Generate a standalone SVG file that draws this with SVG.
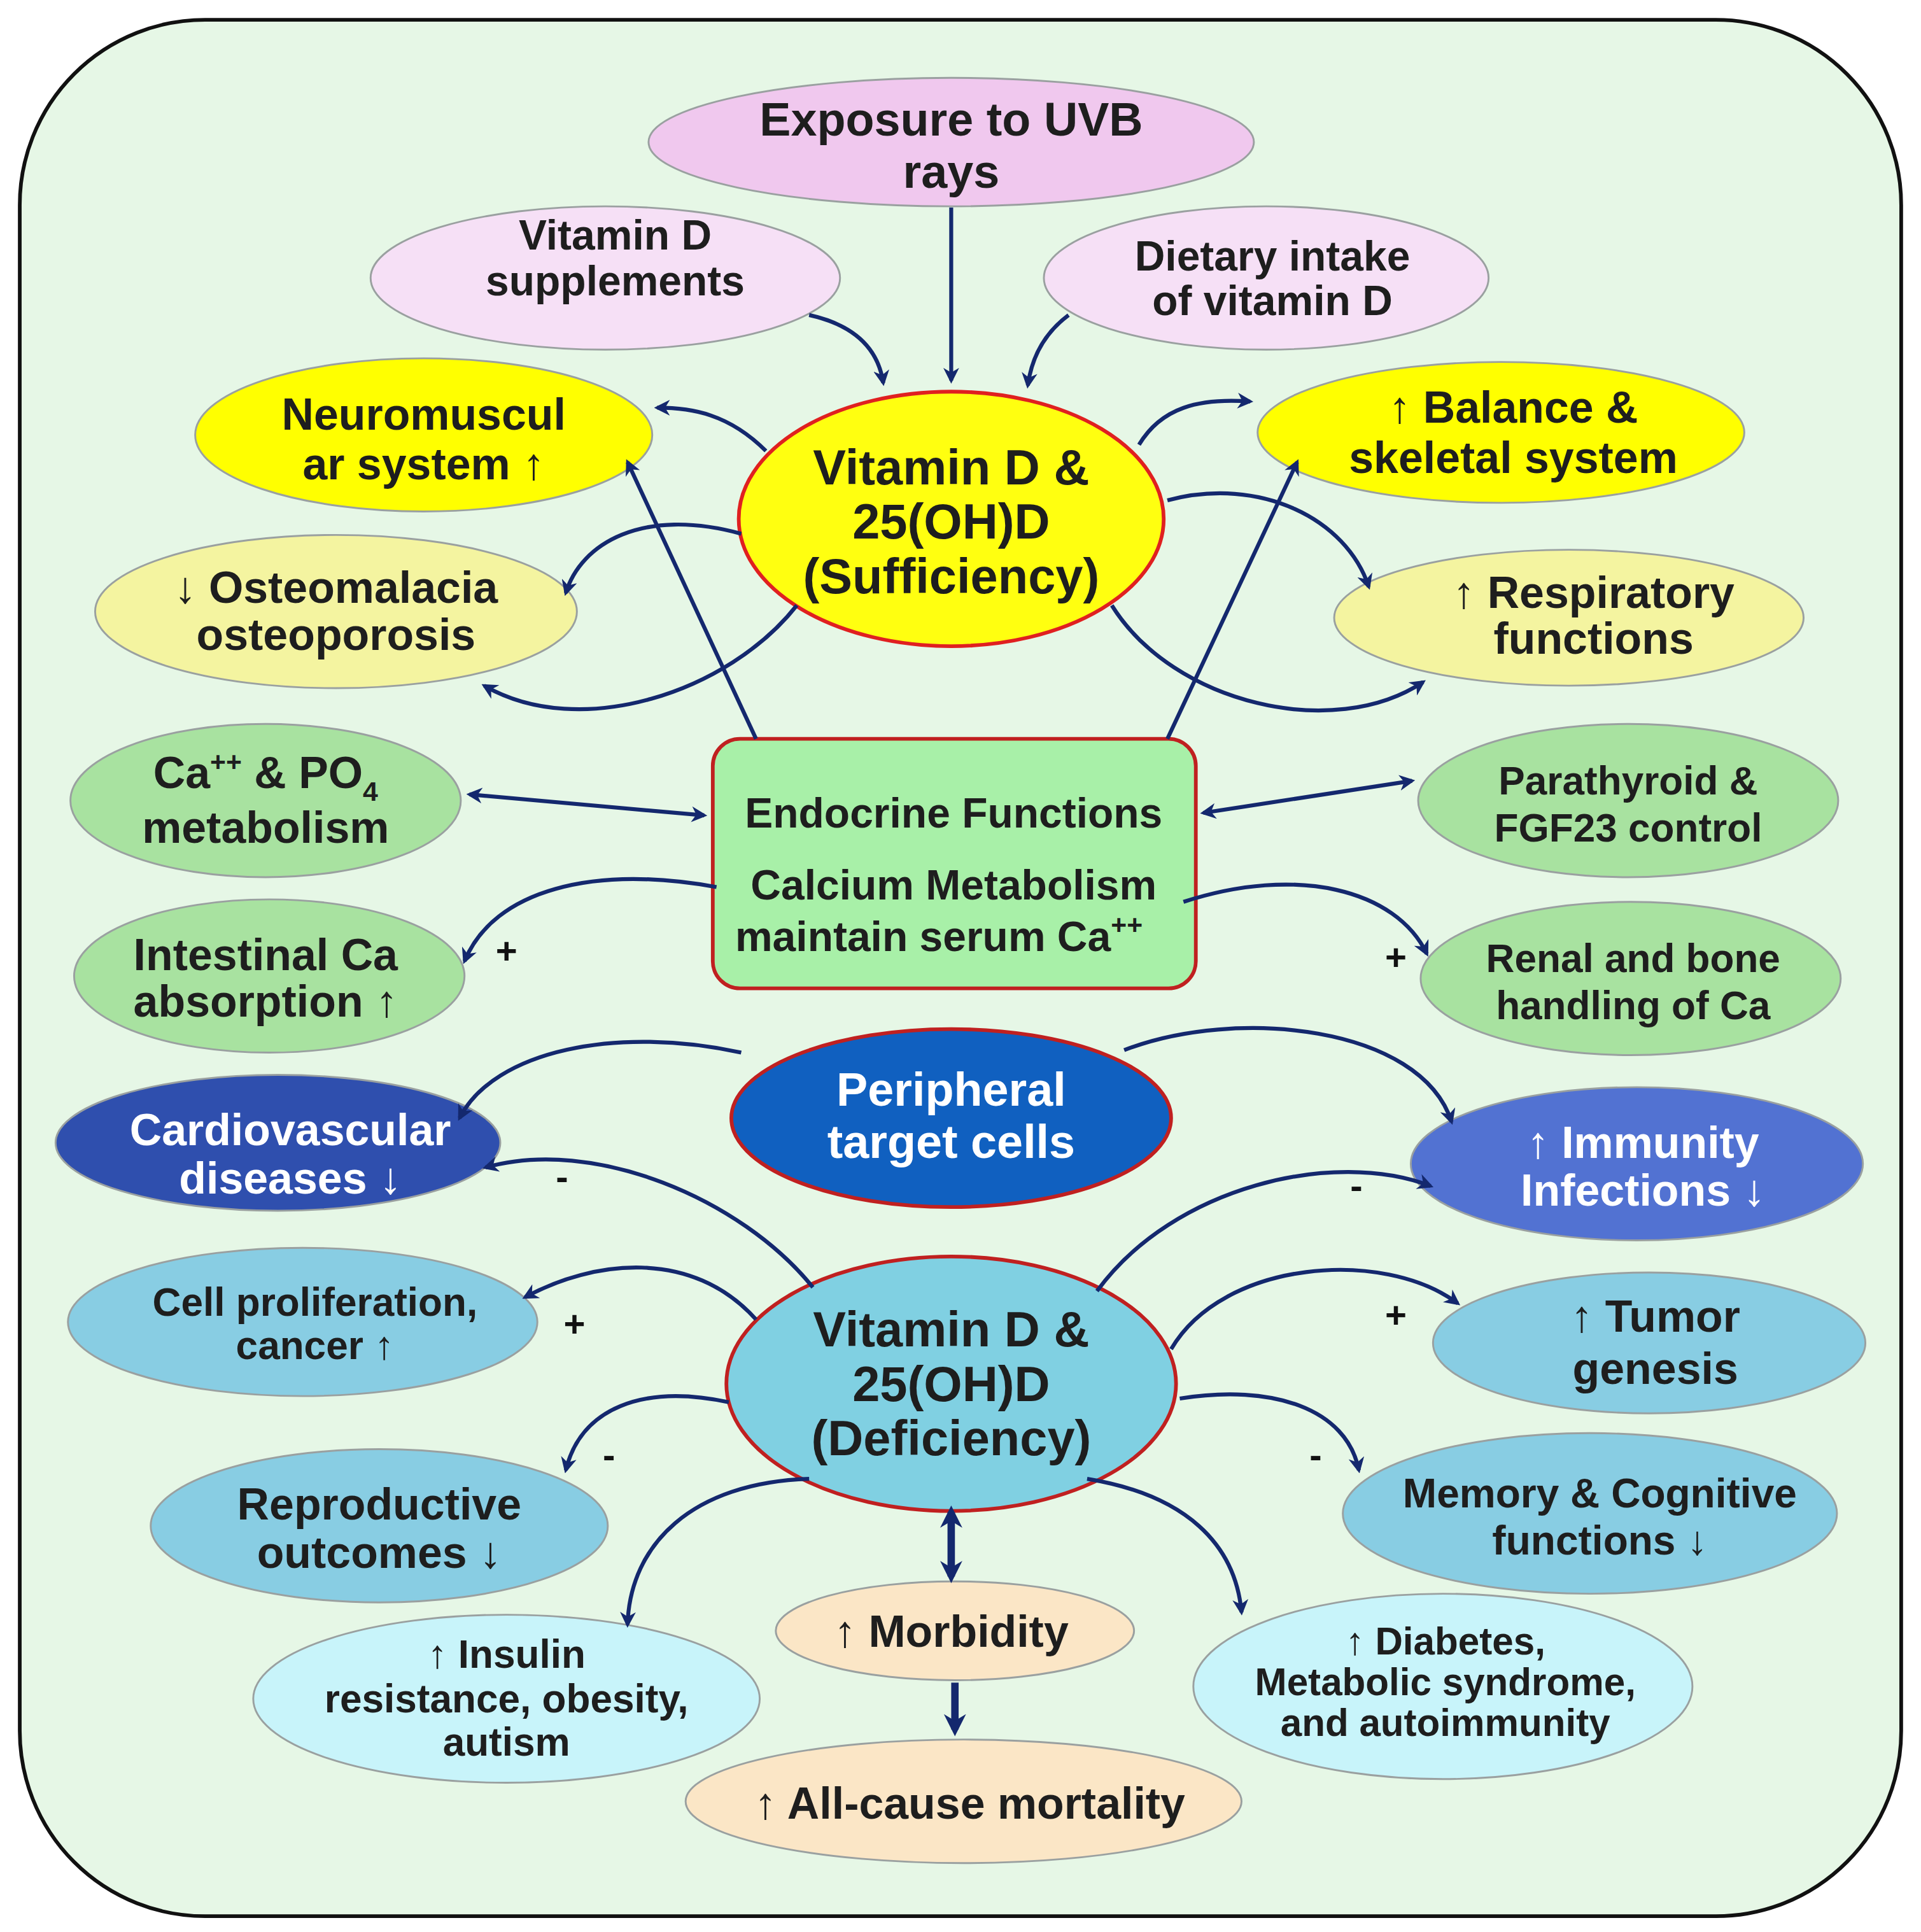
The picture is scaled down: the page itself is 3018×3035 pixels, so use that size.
<svg xmlns="http://www.w3.org/2000/svg" width="3018" height="3035" viewBox="0 0 3018 3035">
<defs>
<marker id="ah" viewBox="0 0 10 10" refX="8" refY="5" markerWidth="4" markerHeight="4" orient="auto-start-reverse"><path d="M0,0 L10,5 L0,10 L3,5 Z" fill="#14286e"/></marker>
<marker id="ah2" viewBox="0 0 10 10" refX="7" refY="5" markerWidth="3" markerHeight="3" orient="auto-start-reverse"><path d="M0,0 L10,5 L0,10 L3,5 Z" fill="#14286e"/></marker>
</defs>
<style>
.n{stroke:#9aa0a0;stroke-width:1.5}
.t{font-family:"Liberation Sans",Arial,sans-serif;font-weight:bold;fill:#1e1e1e;text-anchor:middle}
.w{fill:#fff}
.c path,.c line{fill:none;stroke:#14286e;stroke-width:3.2;marker-end:url(#ah)}
.s{font-family:"Liberation Sans",Arial,sans-serif;font-weight:bold;font-size:30px;fill:#111;text-anchor:middle}
</style>
<rect width="3018" height="3035" fill="#fff"/>
<g transform="scale(1.9408)">
<rect x="16" y="16" width="1523" height="1535" rx="150" fill="#e6f7e6" stroke="#111" stroke-width="3"/>

<g id="uvb"><ellipse cx="770" cy="115" rx="245" ry="52" fill="#f0c8ee" class="n"/><text class="t" font-size="38" x="770" y="110">Exposure to UVB</text><text class="t" font-size="38" x="770" y="152">rays</text></g>
<g id="supp"><ellipse cx="490" cy="225" rx="190" ry="58" fill="#f6e0f6" class="n"/><text class="t" font-size="34" x="498" y="202">Vitamin D</text><text class="t" font-size="34" x="498" y="239">supplements</text></g>
<g id="diet"><ellipse cx="1025" cy="225" rx="180" ry="58" fill="#f6e0f6" class="n"/><text class="t" font-size="34" x="1030" y="219">Dietary intake</text><text class="t" font-size="34" x="1030" y="255">of vitamin D</text></g>
<g id="neuro"><ellipse cx="343" cy="352" rx="185" ry="62" fill="#ffff00" class="n"/><text class="t" font-size="36" x="343" y="348">Neuromuscul</text><text class="t" font-size="36" x="343" y="388">ar system ↑</text></g>
<g id="suff"><ellipse cx="770" cy="420" rx="172" ry="103" fill="#ffff10" stroke="#e02020" stroke-width="3"/><text class="t" font-size="40" x="770" y="392">Vitamin D &amp;</text><text class="t" font-size="40" x="770" y="436">25(OH)D</text><text class="t" font-size="40" x="770" y="480">(Sufficiency)</text></g>
<g id="bal"><ellipse cx="1215" cy="350" rx="197" ry="57" fill="#ffff00" class="n"/><text class="t" font-size="36" x="1225" y="342">↑ Balance &amp;</text><text class="t" font-size="36" x="1225" y="383">skeletal system</text></g>
<g id="osteo"><ellipse cx="272" cy="495" rx="195" ry="62" fill="#f4f4a0" class="n"/><text class="t" font-size="36" x="272" y="488">↓ Osteomalacia</text><text class="t" font-size="36" x="272" y="526">osteoporosis</text></g>
<g id="resp"><ellipse cx="1270" cy="500" rx="190" ry="55" fill="#f4f4a0" class="n"/><text class="t" font-size="36" x="1290" y="492">↑ Respiratory</text><text class="t" font-size="36" x="1290" y="529">functions</text></g>
<g id="capo"><ellipse cx="215" cy="648" rx="158" ry="62" fill="#a8e2a0" class="n"/><text class="t" font-size="36" x="215" y="638">Ca<tspan font-size="22" dy="-14">++</tspan><tspan dy="14"> &amp; PO</tspan><tspan font-size="22" dy="10">4</tspan></text><text class="t" font-size="36" x="215" y="682">metabolism</text></g>
<g id="endo"><rect x="577" y="598" width="391" height="202" rx="22" fill="#a8f0a8" stroke="#c02020" stroke-width="3"/><text class="t" font-size="34" x="772" y="670">Endocrine Functions</text><text class="t" font-size="34" x="772" y="728">Calcium Metabolism</text><text class="t" font-size="34" x="760" y="770">maintain serum Ca<tspan font-size="22" dy="-14">++</tspan></text></g>
<g id="para"><ellipse cx="1318" cy="648" rx="170" ry="62" fill="#a8e2a0" class="n"/><text class="t" font-size="32" x="1318" y="643">Parathyroid &amp;</text><text class="t" font-size="32" x="1318" y="681">FGF23 control</text></g>
<g id="intes"><ellipse cx="218" cy="790" rx="158" ry="62" fill="#a8e2a0" class="n"/><text class="t" font-size="36" x="215" y="785">Intestinal Ca</text><text class="t" font-size="36" x="215" y="823">absorption ↑</text></g>
<g id="renal"><ellipse cx="1320" cy="792" rx="170" ry="62" fill="#a8e2a0" class="n"/><text class="t" font-size="32" x="1322" y="787">Renal and bone</text><text class="t" font-size="32" x="1322" y="825">handling of Ca</text></g>
<g id="periph"><ellipse cx="770" cy="905" rx="178" ry="72" fill="#1060c0" stroke="#c02020" stroke-width="3"/><text class="t w" font-size="38" x="770" y="895">Peripheral</text><text class="t w" font-size="38" x="770" y="937">target cells</text></g>
<g id="cardio"><ellipse cx="225" cy="925" rx="180" ry="55" fill="#2f4fae" class="n"/><text class="t w" font-size="36" x="235" y="927">Cardiovascular</text><text class="t w" font-size="36" x="235" y="966">diseases ↓</text></g>
<g id="immun"><ellipse cx="1325" cy="942" rx="183" ry="62" fill="#5272d2" class="n"/><text class="t w" font-size="36" x="1330" y="937">↑ Immunity</text><text class="t w" font-size="36" x="1330" y="976">Infections ↓</text></g>
<g id="cell"><ellipse cx="245" cy="1070" rx="190" ry="60" fill="#88cde3" class="n"/><text class="t" font-size="32" x="255" y="1065">Cell proliferation,</text><text class="t" font-size="32" x="255" y="1100">cancer ↑</text></g>
<g id="def"><ellipse cx="770" cy="1120" rx="182" ry="103" fill="#80d0e2" stroke="#c02020" stroke-width="3"/><text class="t" font-size="40" x="770" y="1090">Vitamin D &amp;</text><text class="t" font-size="40" x="770" y="1134">25(OH)D</text><text class="t" font-size="40" x="770" y="1178">(Deficiency)</text></g>
<g id="tumor"><ellipse cx="1335" cy="1087" rx="175" ry="57" fill="#88cde3" class="n"/><text class="t" font-size="36" x="1340" y="1078">↑ Tumor</text><text class="t" font-size="36" x="1340" y="1120">genesis</text></g>
<g id="repro"><ellipse cx="307" cy="1235" rx="185" ry="62" fill="#88cde3" class="n"/><text class="t" font-size="36" x="307" y="1230">Reproductive</text><text class="t" font-size="36" x="307" y="1269">outcomes ↓</text></g>
<g id="mem"><ellipse cx="1287" cy="1225" rx="200" ry="65" fill="#88cde3" class="n"/><text class="t" font-size="33" x="1295" y="1220">Memory &amp; Cognitive</text><text class="t" font-size="33" x="1295" y="1258">functions ↓</text></g>
<g id="insul"><ellipse cx="410" cy="1375" rx="205" ry="68" fill="#c8f4fa" class="n"/><text class="t" font-size="32" x="410" y="1350">↑ Insulin</text><text class="t" font-size="32" x="410" y="1386">resistance, obesity,</text><text class="t" font-size="32" x="410" y="1421">autism</text></g>
<g id="morb"><ellipse cx="773" cy="1320" rx="145" ry="40" fill="#fbe6c6" class="n"/><text class="t" font-size="36" x="770" y="1333">↑  Morbidity</text></g>
<g id="diab"><ellipse cx="1168" cy="1365" rx="202" ry="75" fill="#c8f4fa" class="n"/><text class="t" font-size="31" x="1170" y="1339">↑  Diabetes,</text><text class="t" font-size="31" x="1170" y="1372">Metabolic syndrome,</text><text class="t" font-size="31" x="1170" y="1405">and autoimmunity</text></g>
<g id="mort"><ellipse cx="780" cy="1458" rx="225" ry="50" fill="#fbe6c6" class="n"/><text class="t" font-size="36" x="785" y="1472">↑ All-cause mortality</text></g>

<g class="c">
<line x1="770" y1="168" x2="770" y2="308"/>
<path d="M655,255 C700,265 712,290 715,310"/>
<path d="M865,255 C845,270 835,290 832,312"/>
<path d="M620,365 C590,335 560,330 532,330"/>
<path d="M600,432 C520,410 470,440 458,480"/>
<path d="M645,490 C590,560 470,600 392,555"/>
<line x1="612" y1="598" x2="508" y2="374"/>
<path d="M922,360 C940,330 970,322 1012,325"/>
<path d="M945,405 C1020,385 1090,420 1108,475"/>
<path d="M900,490 C950,570 1080,600 1152,552"/>
<line x1="945" y1="598" x2="1050" y2="374"/>
<line x1="380" y1="643" x2="570" y2="660" style="marker-start:url(#ah)"/>
<line x1="974" y1="658" x2="1143" y2="632" style="marker-start:url(#ah)"/>
<path d="M580,718 C480,700 400,720 376,778"/>
<path d="M958,730 C1050,700 1130,720 1155,772"/>
<path d="M600,852 C500,830 400,850 372,905"/>
<path d="M910,850 C1000,815 1150,830 1175,908"/>
<path d="M658,1042 C600,970 480,920 393,945"/>
<path d="M888,1045 C950,960 1080,930 1158,960"/>
<path d="M612,1068 C560,1010 480,1020 425,1050"/>
<path d="M948,1092 C990,1020 1120,1010 1180,1055"/>
<path d="M590,1135 C520,1120 470,1140 458,1190"/>
<path d="M955,1132 C1030,1120 1090,1140 1100,1190"/>
<path d="M655,1197 C560,1200 510,1250 508,1315"/>
<path d="M880,1197 C960,1210 1000,1250 1005,1305"/>
<line x1="770" y1="1224" x2="770" y2="1276" style="stroke-width:6;marker-start:url(#ah2);marker-end:url(#ah2)"/>
<line x1="773" y1="1362" x2="773" y2="1400" style="stroke-width:6;marker-end:url(#ah2)"/>
</g>
<g id="signs">
<text class="s" x="410" y="780">+</text>
<text class="s" x="1130" y="785">+</text>
<text class="s" x="455" y="963">-</text>
<text class="s" x="1098" y="970">-</text>
<text class="s" x="465" y="1082">+</text>
<text class="s" x="1130" y="1075">+</text>
<text class="s" x="493" y="1188">-</text>
<text class="s" x="1065" y="1188">-</text>
</g>
</g>
</svg>
